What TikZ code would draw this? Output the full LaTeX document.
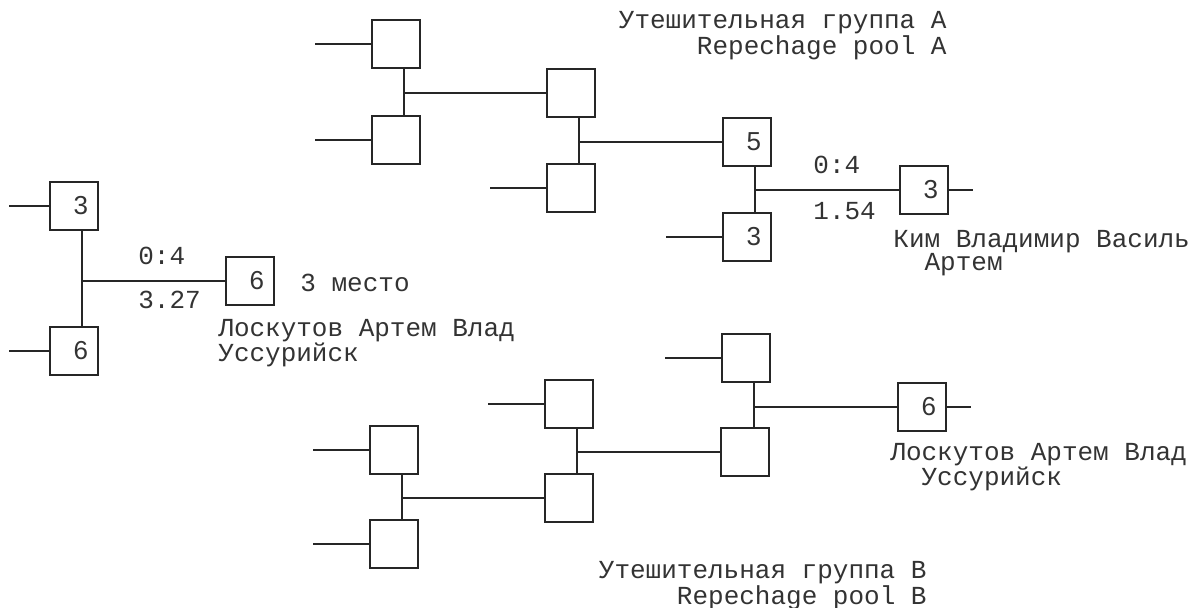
\documentclass[tikz,border=0pt]{standalone}
\usepackage{fontspec}
\setmonofont{Liberation Mono}
\newfontfamily\seatfont{Liberation Sans}
\usepackage{tikz}
\usetikzlibrary{positioning}

\begin{document}
\begin{tikzpicture}[
    x=0.5pt, y=-0.5pt,
    seat/.style={
        rectangle, draw=black!85, line width=1pt,
        minimum size=24pt, inner sep=0pt, text width=14pt, align=right,
        font=\seatfont\fontsize{13}{13}\selectfont, text=black!80
    },
    link/.style={line width=1pt, black!85},
    note/.style={
        inner sep=0pt, anchor=base west, align=left,
        font=\ttfamily\fontsize{13}{11.5}\selectfont, text=black!80
    },
    title/.style={note, anchor=base east, align=right},
]
\useasboundingbox (0,0) rectangle (1196,608);

% Repechage pool A
\node[seat] (a1) at (396,44) {};
\node[seat] (a2) at (396,140) {};
\node[seat] (a3) at (571,93) {};
\node[seat] (a4) at (571,188) {};
\node[seat] (a5) at (747,142) {5};
\node[seat] (a6) at (747,237) {3};
\node[seat] (a7) at (924,190) {3};
\node[title] (titleA) at (947,55) {Утешительная группа A\\Repechage pool A};

% Final for 3rd place
\node[seat] (l1) at (74,206) {3};
\node[seat] (l2) at (74,351) {6};
\node[seat] (l3) at (250,281) {6};
\node[note] (place) at (300,292) {3 место};

% Repechage pool B
\node[seat] (b1) at (394,450) {};
\node[seat] (b2) at (394,544) {};
\node[seat] (b3) at (569,404) {};
\node[seat] (b4) at (569,498) {};
\node[seat] (b5) at (746,358) {};
\node[seat] (b6) at (745,452) {};
\node[seat] (b7) at (922,407) {6};
\node[title] (titleB) at (927,605) {Утешительная группа B\\Repechage pool B};

% Scores and names
\node[note] (scoreA) at (813,174) {0:4};
\node[note] (timeA) at (813,220) {1.54};
\node[note] (nameA) at (893,271) {Ким Владимир Василь\\\hspace*{1.2em}Артем};
\node[note] (scoreL) at (138,265) {0:4};
\node[note] (timeL) at (138,309) {3.27};
\node[note] (nameL) at (218,362) {Лоскутов Артем Влад\\Уссурийск};
\node[note] (nameB) at (890,486) {Лоскутов Артем Влад\\\hspace*{1.2em}Уссурийск};

% Junctions
\coordinate (j1) at ([xshift=4pt]a1.south);
\coordinate (j2) at ([xshift=4pt]a3.south);
\coordinate (j3) at ([xshift=4pt]a5.south);
\coordinate (jl) at ([xshift=4pt]l1.south);
\coordinate (k1) at ([xshift=4pt]b1.south);
\coordinate (k2) at ([xshift=4pt]b3.south);
\coordinate (k3) at ([xshift=4pt]b5.south);

\draw[link] (j1) -- (j1 |- a2.north);
\draw[link] (j1 |- a3.west) -- (a3.west);
\draw[link] (j2) -- (j2 |- a4.north);
\draw[link] (j2 |- a5.west) -- (a5.west);
\draw[link] (j3) -- (j3 |- a6.north);
\draw[link] (j3 |- a7.west) -- (a7.west);

\draw[link] (jl) -- (jl |- l2.north);
\draw[link] (jl |- l3.west) -- (l3.west);

\draw[link] (k1) -- (k1 |- b2.north);
\draw[link] (k1 |- b4.west) -- (b4.west);
\draw[link] (k2) -- (k2 |- b4.north);
\draw[link] (k2 |- b6.west) -- (b6.west);
\draw[link] (k3) -- (k3 |- b6.north);
\draw[link] (k3 |- b7.west) -- (b7.west);

% Entry and exit stubs
\foreach \s in {a1,a2,a4,a6,b1,b2,b3,b5}
    \draw[link] (\s.west) -- ++(-56,0);
\foreach \s in {l1,l2}
    \draw[link] (\s.west) -- ++(-40,0);
\foreach \s in {a7,b7}
    \draw[link] (\s.east) -- ++(24,0);

\end{tikzpicture}
\end{document}
